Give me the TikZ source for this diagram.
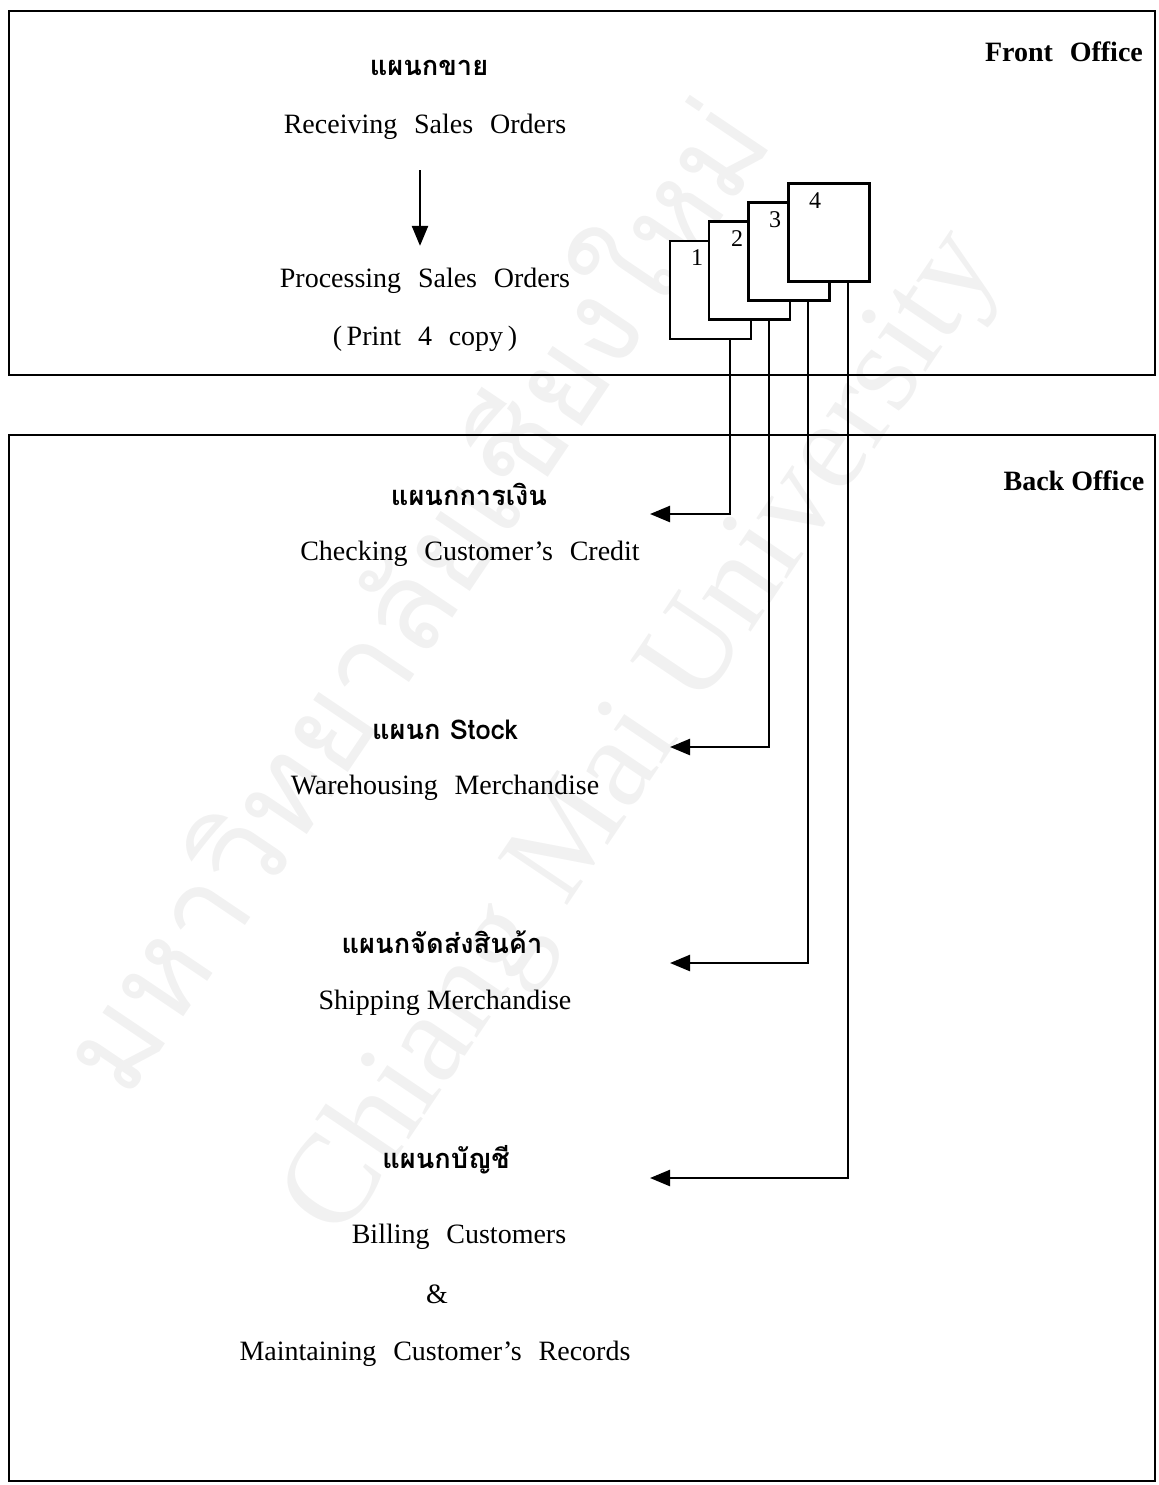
\documentclass[tikz,border=0pt]{standalone}
\usepackage{fontspec}
\setmainfont{Liberation Serif}
\newfontfamily\thaifont[Script=Thai]{Loma}
\usetikzlibrary{arrows.meta,calc}
\newcommand\gp{\hspace{0.6em}}
\begin{document}
\begin{tikzpicture}[x=0.5pt,y=-0.5pt,
  frame/.style={draw,line width=1.4pt},
  doc/.style={draw,fill=white,line width=1.3pt,minimum width=40.5pt,minimum height=49pt,inner sep=0pt},
  num/.style={font=\fontsize{12}{14}\selectfont,inner sep=0pt},
  lbl/.style={font=\fontsize{14}{16}\selectfont,inner sep=0pt},
  th/.style={font=\thaifont\bfseries\fontsize{13.6}{16}\selectfont,inner sep=0pt},
  ttl/.style={font=\bfseries\fontsize{14}{16}\selectfont,inner sep=0pt},
  conn/.style={line width=1.2pt},
  arr/.style={conn,-{Triangle[length=10pt,width=8pt]}},
  wm/.style={text=gray!11,inner sep=0pt,rotate=56}
]
\useasboundingbox (0,0) rectangle (1158,1485);
% watermark
\node[wm,font=\thaifont\fontsize{62}{66}\selectfont] (wm1) at (405,590) {มหาวิทยาลัยเชียงใหม่};
\node[wm,font=\fontsize{64}{68}\selectfont] (wm2) at (645,735) {Chiang Mai University};
% frames
\draw[frame] (9,11) rectangle (1155,375);
\draw[frame] (9,435) rectangle (1155,1481);
\node[ttl] (fo) at (1064,52) {Front\gp Office};
\node[ttl] (bo) at (1074,481) {Back Office};
% front office texts
\node[th] (sale) at (429,68) {แผนกขาย};
\node[lbl] (recv) at (425,127) {Receiving\gp Sales\gp Orders};
\node[lbl] (proc) at (425,281) {Processing\gp Sales\gp Orders};
\node[lbl] (print) at (425,339) {(\,Print\gp 4\gp copy\,)};
\draw[arr] ($(recv.south)+(-5,30)$) -- ($(proc.north)+(-5,-22)$);
% documents
\node[doc] (d1) at (710.5,290) {};
\node[doc] (d2) at (749.5,270.5) {};
\node[doc] (d3) at (789,251.5) {};
\node[doc] (d4) at (829,232.5) {};
\node[num] (n1) at (697,258) {1};
\node[num] (n2) at (737,239) {2};
\node[num] (n3) at (775,220) {3};
\node[num] (n4) at (815,201) {4};
% back office texts
\node[th] (fin) at (469,494) {แผนกการเงิน};
\node[lbl] (chk) at (470,554) {Checking\gp Customer’s\gp Credit};
\node[th] (stk) at (445,730) {แผนก Stock};
\node[lbl] (ware) at (445,788) {Warehousing\gp Merchandise};
\node[th] (shp) at (442,942) {แผนกจัดส่งสินค้า};
\node[lbl] (ship) at (445,1003) {Shipping Merchandise};
\node[th] (acc) at (446,1160) {แผนกบัญชี};
\node[lbl] (bill) at (459,1237) {Billing\gp Customers};
\node[lbl] (amp) at (437,1294) {\&};
\node[lbl] (maint) at (435,1354) {Maintaining\gp Customer’s\gp Records};
% arrow targets
\coordinate (t1) at (650,514);
\coordinate (t2) at (670,747);
\coordinate (t3) at (670,963);
\coordinate (t4) at (650,1178);
\draw[arr] ($(d1.south)+(19.5,0)$) |- (t1);
\draw[arr] ($(d2.south)+(19.5,0)$) |- (t2);
\draw[arr] ($(d3.south)+(19,0)$) |- (t3);
\draw[arr] ($(d4.south)+(19,0)$) |- (t4);
\end{tikzpicture}
\end{document}
